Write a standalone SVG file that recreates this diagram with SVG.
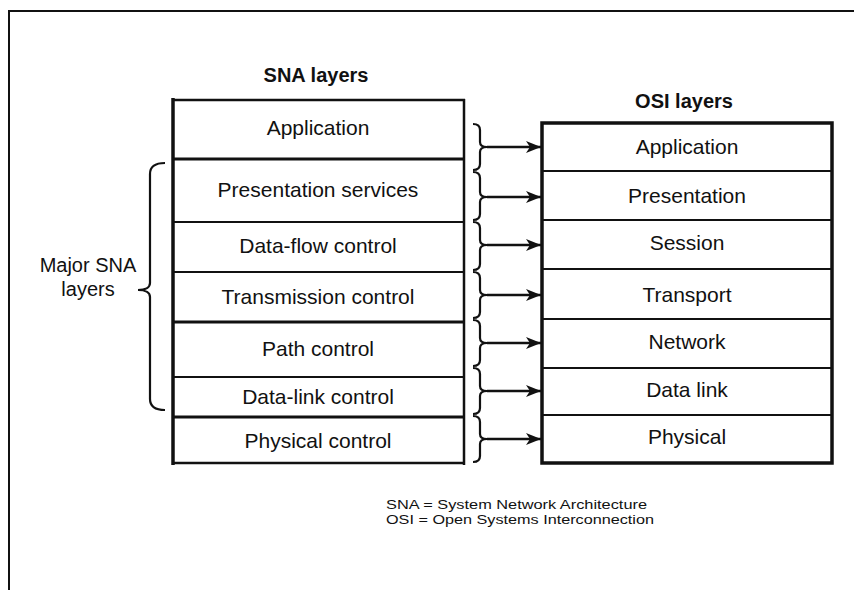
<svg xmlns="http://www.w3.org/2000/svg" width="854" height="590" viewBox="0 0 854 590">
<defs>
<style>
.t{font-family:"Liberation Sans",Arial,sans-serif;font-size:21px;fill:#111;text-anchor:middle}
.h{font-family:"Liberation Sans",Arial,sans-serif;font-size:20px;font-weight:bold;fill:#111;text-anchor:middle}
.f{font-family:"Liberation Sans",Arial,sans-serif;font-size:13px;fill:#111}
.ln{stroke:#111;fill:none}
.br{stroke:#111;stroke-width:2.2;fill:none}
.ar{stroke:#111;stroke-width:2.5;fill:none}
</style>
<marker id="ah" markerWidth="16" markerHeight="12" refX="15" refY="6" orient="auto" markerUnits="userSpaceOnUse">
<path d="M0,0 L15,6 L0,12 L4,6 z" fill="#111"/>
</marker>
</defs>
<rect width="854" height="590" fill="#fff"/>
<path class="ln" stroke-width="2" d="M9,600 V11 H860"/>

<text class="h" x="316" y="82">SNA layers</text>
<text class="h" x="684" y="108">OSI layers</text>

<g id="sna">
<rect x="173" y="100" width="291" height="363" fill="#fff" stroke="none"/>
<line class="ln" stroke-width="3.5" x1="173" y1="98" x2="173" y2="465"/>
<line class="ln" stroke-width="2.5" x1="464" y1="99" x2="464" y2="465"/>
<line class="ln" stroke-width="2.5" x1="172" y1="100" x2="465" y2="100"/>
<line class="ln" stroke-width="3" x1="172" y1="159" x2="465" y2="159"/>
<line class="ln" stroke-width="1.8" x1="172" y1="222" x2="465" y2="222"/>
<line class="ln" stroke-width="1.8" x1="172" y1="272" x2="465" y2="272"/>
<line class="ln" stroke-width="3" x1="172" y1="322" x2="465" y2="322"/>
<line class="ln" stroke-width="1.8" x1="172" y1="377" x2="465" y2="377"/>
<line class="ln" stroke-width="3" x1="172" y1="417" x2="465" y2="417"/>
<line class="ln" stroke-width="2.5" x1="172" y1="463" x2="465" y2="463"/>
</g>
<g id="sna-application"><text class="t" x="318" y="135">Application</text></g>
<g id="sna-presentation"><text class="t" x="318" y="197">Presentation services</text></g>
<g id="sna-dataflow"><text class="t" x="318" y="253">Data-flow control</text></g>
<g id="sna-transmission"><text class="t" x="318" y="304">Transmission control</text></g>
<g id="sna-path"><text class="t" x="318" y="356">Path control</text></g>
<g id="sna-datalink"><text class="t" x="318" y="404">Data-link control</text></g>
<g id="sna-physical"><text class="t" x="318" y="448">Physical control</text></g>

<g id="osi">
<rect x="542" y="123" width="290" height="340" fill="#fff" stroke="#111" stroke-width="3.5"/>
<line class="ln" stroke-width="2" x1="542" y1="171" x2="832" y2="171"/>
<line class="ln" stroke-width="2" x1="542" y1="220" x2="832" y2="220"/>
<line class="ln" stroke-width="2" x1="542" y1="269" x2="832" y2="269"/>
<line class="ln" stroke-width="2" x1="542" y1="319" x2="832" y2="319"/>
<line class="ln" stroke-width="2" x1="542" y1="368" x2="832" y2="368"/>
<line class="ln" stroke-width="2" x1="542" y1="415" x2="832" y2="415"/>
</g>
<g id="osi-application"><text class="t" x="687" y="154">Application</text></g>
<g id="osi-presentation"><text class="t" x="687" y="203">Presentation</text></g>
<g id="osi-session"><text class="t" x="687" y="250">Session</text></g>
<g id="osi-transport"><text class="t" x="687" y="302">Transport</text></g>
<g id="osi-network"><text class="t" x="687" y="349">Network</text></g>
<g id="osi-datalink"><text class="t" x="687" y="397">Data link</text></g>
<g id="osi-physical"><text class="t" x="687" y="444">Physical</text></g>

<g id="major-sna">
<path class="br" d="M165,163 C156,163 150,166 150,174 V283 C150,287 146,290 138,290 C146,290 150,293 150,297 V399 C150,407 156,410 165,410"/>
<text class="t" x="88" y="272" style="font-size:20px">Major SNA</text>
<text class="t" x="88" y="296" style="font-size:20px">layers</text>
</g>

<g id="connectors">
<path class="br" d="M473,124 C478,124 480,126 480,130 V142 C480,145 482,147 487,147 C482,147 480,149 480,152 V164 C480,168 478,170 473,170"/>
<path class="br" d="M473,172 C478,172 480,174 480,178 V192 C480,195 482,197 487,197 C482,197 480,199 480,202 V214 C480,218 478,220 473,220"/>
<path class="br" d="M473,222 C478,222 480,224 480,228 V240 C480,243 482,245 487,245 C482,245 480,247 480,250 V264 C480,268 478,270 473,270"/>
<path class="br" d="M473,272 C478,272 480,274 480,278 V290 C480,293 482,295 487,295 C482,295 480,297 480,300 V312 C480,316 478,318 473,318"/>
<path class="br" d="M473,320 C478,320 480,322 480,326 V338 C480,341 482,343 487,343 C482,343 480,345 480,348 V360 C480,364 478,366 473,366"/>
<path class="br" d="M473,368 C478,368 480,370 480,374 V386 C480,389 482,391 487,391 C482,391 480,393 480,396 V408 C480,412 478,414 473,414"/>
<path class="br" d="M473,416 C478,416 480,418 480,422 V434 C480,437 482,439 487,439 C482,439 480,441 480,444 V456 C480,460 478,462 473,462"/>
<line class="ar" x1="487" y1="147" x2="541" y2="147" marker-end="url(#ah)"/>
<line class="ar" x1="487" y1="197" x2="541" y2="197" marker-end="url(#ah)"/>
<line class="ar" x1="487" y1="245" x2="541" y2="245" marker-end="url(#ah)"/>
<line class="ar" x1="487" y1="295" x2="541" y2="295" marker-end="url(#ah)"/>
<line class="ar" x1="487" y1="343" x2="541" y2="343" marker-end="url(#ah)"/>
<line class="ar" x1="487" y1="391" x2="541" y2="391" marker-end="url(#ah)"/>
<line class="ar" x1="487" y1="439" x2="541" y2="439" marker-end="url(#ah)"/>
</g>

<g id="legend">
<text class="f" x="386" y="509" textLength="261" lengthAdjust="spacingAndGlyphs">SNA = System Network Architecture</text>
<text class="f" x="386" y="524" textLength="268" lengthAdjust="spacingAndGlyphs">OSI = Open Systems Interconnection</text>
</g>
</svg>
